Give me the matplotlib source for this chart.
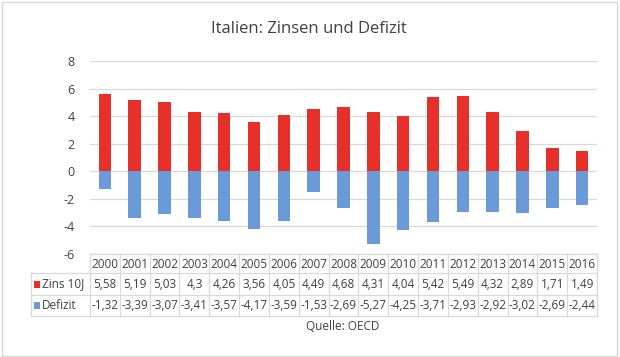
import matplotlib
matplotlib.use("Agg")
import matplotlib.pyplot as plt
from matplotlib.patches import Rectangle

# ── Data ──────────────────────────────────────────────────────────────────────
years   = [2000, 2001, 2002, 2003, 2004, 2005, 2006, 2007, 2008,
           2009, 2010, 2011, 2012, 2013, 2014, 2015, 2016]
zins    = [5.58, 5.19, 5.03, 4.3, 4.26, 3.56, 4.05, 4.49, 4.68,
           4.31, 4.04, 5.42, 5.49, 4.32, 2.89, 1.71, 1.49]
defizit = [-1.32, -3.39, -3.07, -3.41, -3.57, -4.17, -3.59, -1.53, -2.69,
           -5.27, -4.25, -3.71, -2.93, -2.92, -3.02, -2.69, -2.44]
series_names = ["Zins 10J", "Defizit"]
yticks = [-6, -4, -2, 0, 2, 4, 6, 8]

RED  = "#e8302a"
BLUE = "#6a9bd8"
GRID = "#d9d9d9"
TXT  = "#404040"

W, H = 620, 357
plt.rcParams["font.family"] = ["Open Sans", "DejaVu Sans"]

fig = plt.figure(figsize=(W / 100, H / 100), dpi=100)
fig.patch.set_facecolor("white")

def fx(px):
    return px / W

def fy(py):
    return 1 - py / H

# plot area in pixels
left, right, top, bottom = 90, 597, 61, 254
ax = fig.add_axes([fx(left), fy(bottom), fx(right - left), fy(top) - fy(bottom)])

x = list(range(len(years)))
ax.bar(x, zins, width=0.42, color=RED, zorder=3)
ax.bar(x, defizit, width=0.42, color=BLUE, zorder=3)

ax.set_xlim(-0.5, len(years) - 0.5)
ax.set_ylim(yticks[0], yticks[-1])
ax.set_yticks(yticks)
ax.set_yticklabels([str(t) for t in yticks], fontsize=9, color=TXT)
ax.tick_params(axis="y", length=0, pad=11)
ax.set_xticks([])
ax.yaxis.grid(True, color=GRID, linewidth=0.9, zorder=0)
for s in ax.spines.values():
    s.set_visible(False)

# ── Data table ────────────────────────────────────────────────────────────────
col_w = (right - left) / len(years)
rows_y = [254, 273, 295, 316]
lab_left = 31

def hline(py, x0, x1):
    fig.add_artist(plt.Line2D([fx(x0), fx(x1)], [fy(py), fy(py)],
                              color=GRID, linewidth=0.9))

def vline(px, y0, y1):
    fig.add_artist(plt.Line2D([fx(px), fx(px)], [fy(y0), fy(y1)],
                              color=GRID, linewidth=0.9))

hline(rows_y[0], left, right)
for py in rows_y[1:]:
    hline(py, lab_left, right)
for i in range(len(years) + 1):
    vline(left + i * col_w, rows_y[0], rows_y[-1])
vline(lab_left, rows_y[1], rows_y[-1])

def fmt(v):
    return str(v).replace(".", ",")

for i, yr in enumerate(years):
    cx = fx(left + (i + 0.5) * col_w)
    fig.text(cx, fy((rows_y[0] + rows_y[1]) / 2 + 1), str(yr), ha="center", va="center",
             fontsize=8.5, color=TXT)
    fig.text(cx, fy((rows_y[1] + rows_y[2]) / 2), fmt(zins[i]), ha="center", va="center",
             fontsize=8.5, color=TXT)
    fig.text(cx, fy((rows_y[2] + rows_y[3]) / 2), fmt(defizit[i]), ha="center", va="center",
             fontsize=8.5, color=TXT)

for name, col, (r0, r1) in zip(series_names, [RED, BLUE],
                               [(rows_y[1], rows_y[2]), (rows_y[2], rows_y[3])]):
    cy = (r0 + r1) / 2
    fig.add_artist(Rectangle((fx(34), fy(cy + 3.5)), fx(6), fy(cy - 3.5) - fy(cy + 3.5),
                             facecolor=col, edgecolor="none"))
    fig.text(fx(42), fy(cy), name, ha="left", va="center", fontsize=8.5, color=TXT)

# ── Title, source, frame ──────────────────────────────────────────────────────
fig.text(fx(309), fy(29), "Italien: Zinsen und Defizit", ha="center", va="center",
         fontsize=12, color=TXT)
fig.text(fx(343), fy(326), "Quelle: OECD", ha="center", va="center",
         fontsize=8.5, color=TXT)

fig.add_artist(Rectangle((fx(1.5), fy(355.5)), fx(615), fy(1.5) - fy(355.5),
                         facecolor="none", edgecolor=GRID, linewidth=1))

fig.savefig("out.png", dpi=100)
